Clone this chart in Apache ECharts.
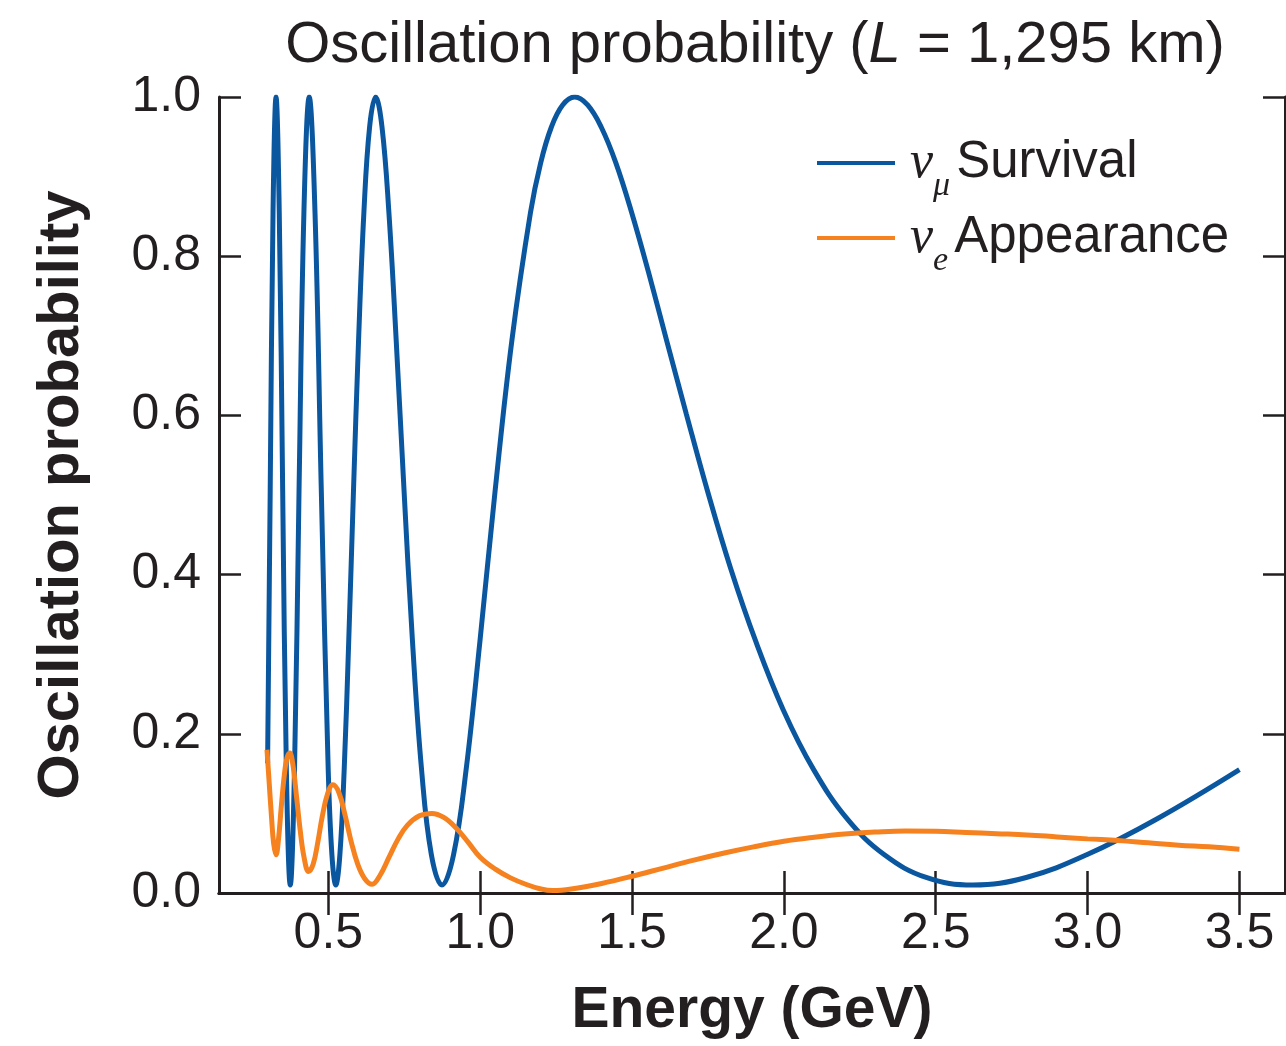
<!DOCTYPE html>
<html>
<head>
<meta charset="utf-8">
<script src="https://cdn.jsdelivr.net/npm/echarts@6/dist/echarts.min.js"></script>
<style>
html,body{margin:0;padding:0;background:#fff;}
#chart{width:1286px;height:1046px;}
</style>
</head>
<body>
<div id="chart"></div>
<script>
// Energy (GeV) and probabilities
const survivalE = [0.300, 0.3086, 0.3179, 0.3278, 0.3384, 0.3497, 0.3618, 0.3747, 0.3886, 0.4035, 0.4196, 0.4371, 0.4561, 0.4769, 0.4996, 0.5118, 0.5246, 0.5380, 0.5522, 0.5671, 0.5828, 0.5995, 0.6171, 0.6358, 0.6557, 0.6768, 0.6994, 0.7235, 0.7494, 0.7771, 0.8070, 0.8393, 0.8743, 0.9123, 0.9537, 0.9991, 1.0491, 1.1043, 1.1657, 1.1990, 1.2342, 1.2716, 1.3114, 1.3537, 1.3988, 1.4470, 1.4987, 1.5542, 1.614, 1.6786, 1.7485, 1.8245, 1.9075, 1.998, 2.098, 2.2086, 2.331, 2.4685, 2.623, 2.798, 2.997, 3.228, 3.5];
const survivalP = [0.163, 0.505, 0.855, 1.0, 0.855, 0.505, 0.155, 0.01, 0.155, 0.505, 0.855, 1.0, 0.855, 0.505, 0.155, 0.048, 0.01, 0.048, 0.155, 0.316, 0.505, 0.694, 0.855, 0.962, 1.0, 0.962, 0.855, 0.694, 0.505, 0.316, 0.155, 0.048, 0.01, 0.048, 0.155, 0.316, 0.505, 0.694, 0.855, 0.917, 0.962, 0.990, 1.0, 0.990, 0.962, 0.917, 0.855, 0.780, 0.694, 0.602, 0.505, 0.408, 0.316, 0.230, 0.155, 0.093, 0.048, 0.0195, 0.01, 0.0195, 0.048, 0.093, 0.155];

const appearanceE = [0.298, 0.305, 0.313, 0.320, 0.328, 0.336, 0.345, 0.355, 0.364, 0.373, 0.383, 0.395, 0.407, 0.420, 0.435, 0.450, 0.465, 0.480, 0.497, 0.515, 0.535, 0.555, 0.575, 0.597, 0.620, 0.644, 0.670, 0.700, 0.730, 0.760, 0.800, 0.841, 0.880, 0.920, 0.960, 1.000, 1.050, 1.100, 1.150, 1.200, 1.240, 1.300, 1.400, 1.500, 1.600, 1.700, 1.800, 1.900, 2.000, 2.100, 2.200, 2.300, 2.400, 2.500, 2.600, 2.700, 2.800, 2.900, 3.000, 3.100, 3.200, 3.300, 3.400, 3.500];
const appearanceP = [0.180, 0.140, 0.095, 0.062, 0.048, 0.068, 0.108, 0.148, 0.170, 0.176, 0.162, 0.122, 0.080, 0.045, 0.027, 0.036, 0.063, 0.096, 0.124, 0.136, 0.126, 0.098, 0.065, 0.036, 0.018, 0.011, 0.022, 0.045, 0.068, 0.085, 0.097, 0.100, 0.095, 0.082, 0.064, 0.045, 0.030, 0.019, 0.011, 0.005, 0.003, 0.005, 0.012, 0.021, 0.031, 0.041, 0.050, 0.058, 0.065, 0.070, 0.074, 0.0765, 0.078, 0.0775, 0.076, 0.0745, 0.073, 0.0705, 0.068, 0.066, 0.063, 0.060, 0.058, 0.055];

const xTicks = [0.5, 1.0, 1.5, 2.0, 2.5, 3.0, 3.5];
const yTicks = [0.0, 0.2, 0.4, 0.6, 0.8, 1.0];
const seriesNames = ['numu', 'nue'];

const FONT = '"Liberation Sans Narrow", "Liberation Sans", sans-serif';
const INK = '#231f20';
const BLUE = '#0b579f';
const ORANGE = '#f5821f';

const pairs = (xs, ys) => xs.map((x, i) => [x, ys[i]]);

const chart = echarts.init(document.getElementById('chart'), null, {renderer: 'canvas'});

const axisLineStyle = {show: true, lineStyle: {color: INK, width: 3}};
const tickStyle = {show: true, inside: true, length: 22, lineStyle: {color: INK, width: 2.5}};

chart.setOption({
  animation: false,
  backgroundColor: '#fff',
  title: {
    text: '{n|Oscillation probability (}{i|L}{n| = 1,295 km)}',
    left: 750, top: 12, textAlign: 'center',
    textStyle: {
      fontWeight: 'normal',
      rich: {
        n: {fontFamily: FONT, fontSize: 58, fontWeight: 'normal', color: INK},
        i: {fontFamily: FONT, fontSize: 58, fontWeight: 'normal', color: INK, fontStyle: 'italic'}
      }
    }
  },
  legend: {
    orient: 'vertical', left: 812, top: 132,
    itemWidth: 78, itemHeight: 4, itemGap: 9, icon: 'rect',
    data: seriesNames,
    formatter: function (name) {
      return name === 'numu' ? '{nu|ν}{sub|μ}{t|Survival}' : '{nu|ν}{sub|e}{t|Appearance}';
    },
    textStyle: {
      padding: [0, 0, 0, 10],
      rich: {
        nu: {fontFamily: '"Liberation Serif", serif', fontStyle: 'italic', fontSize: 52, color: INK, lineHeight: 56},
        sub: {fontFamily: '"Liberation Serif", serif', fontStyle: 'italic', fontSize: 34, color: INK, verticalAlign: 'bottom', padding: [0, 0, -12, 0]},
        t: {fontFamily: FONT, fontSize: 51, color: INK, padding: [0, 0, 0, 6], lineHeight: 56}
      }
    }
  },
  grid: {left: 219, right: 1, top: 97, bottom: 153, containLabel: false},
  xAxis: [{
    type: 'value', min: 0.14, max: 3.65, position: 'bottom',
    name: 'Energy (GeV)', nameLocation: 'middle', nameGap: 90,
    nameTextStyle: {fontFamily: FONT, fontWeight: 'bold', fontSize: 57, color: INK},
    axisLine: axisLineStyle,
    axisTick: Object.assign({customValues: xTicks}, tickStyle),
    axisLabel: {customValues: xTicks, margin: 16, fontFamily: FONT, fontSize: 50, color: INK,
      formatter: v => v.toFixed(1)},
    splitLine: {show: false}
  }, {
    type: 'value', min: 0.14, max: 3.65, position: 'top',
    axisLine: axisLineStyle,
    axisTick: Object.assign({customValues: xTicks}, tickStyle),
    axisLabel: {show: false},
    splitLine: {show: false}
  }],
  yAxis: [{
    type: 'value', min: 0, max: 1, interval: 0.2, position: 'left',
    name: 'Oscillation probability', nameLocation: 'middle', nameGap: 128,
    nameTextStyle: {fontFamily: FONT, fontWeight: 'bold', fontSize: 58, color: INK},
    axisLine: axisLineStyle,
    axisTick: tickStyle,
    axisLabel: {margin: 18, fontFamily: FONT, fontSize: 50, color: INK,
      formatter: v => v.toFixed(1)},
    splitLine: {show: false}
  }, {
    type: 'value', min: 0, max: 1, interval: 0.2, position: 'right',
    axisLine: axisLineStyle,
    axisTick: tickStyle,
    axisLabel: {show: false},
    splitLine: {show: false}
  }],
  series: [{
    name: 'numu', type: 'line', smooth: 0.4, showSymbol: false, symbol: 'none',
    data: pairs(survivalE, survivalP),
    lineStyle: {color: BLUE, width: 5}, itemStyle: {color: BLUE}, z: 3
  }, {
    name: 'nue', type: 'line', smooth: 0.4, showSymbol: false, symbol: 'none',
    data: pairs(appearanceE, appearanceP),
    lineStyle: {color: ORANGE, width: 5}, itemStyle: {color: ORANGE}, z: 4
  }]
});
</script>
</body>
</html>
